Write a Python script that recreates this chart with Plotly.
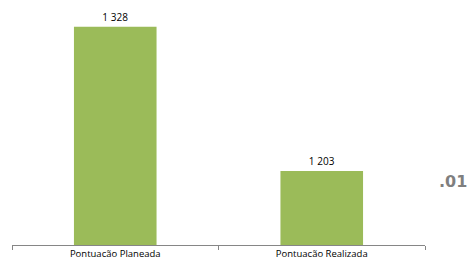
import plotly.graph_objects as go

categories = ["Pontuacão Planeada", "Pontuacão Realizada"]
values = [1328, 1203]
value_labels = ["1 328", "1 203"]

fig = go.Figure()
fig.add_trace(go.Bar(
    x=categories, y=values,
    marker=dict(color="#9BBB59", line=dict(width=0)),
    text=value_labels, textposition="outside",
    textfont=dict(family="Open Sans", size=10, color="#000000"),
    cliponaxis=False,
    hoverinfo="skip",
))

fig.update_layout(
    width=469, height=263,
    margin=dict(l=12, r=44, t=10, b=18, autoexpand=False),
    paper_bgcolor="white", plot_bgcolor="white",
    bargap=0.6,
    showlegend=False,
    xaxis=dict(
        showline=True, linecolor="#868686", linewidth=1,
        ticks="outside", tickson="boundaries", ticklen=4, tickcolor="#868686",
        tickfont=dict(family="Open Sans", size=9.5, color="#000000"),
        showgrid=False, automargin=False,
    ),
    yaxis=dict(
        range=[1139, 1342.5], visible=False, showgrid=False,
    ),
    annotations=[dict(
        text="<b>.01</b>", xref="paper", yref="paper",
        x=(453 - 12) / 413, y=(245 - 181) / 235,
        xanchor="center", yanchor="middle",
        showarrow=False,
        font=dict(family="Verdana, DejaVu Sans", size=16, color="#7F7F7F"),
    )],
)

fig.write_html(
    "out.html",
    config={"displayModeBar": False, "staticPlot": True},
    post_script="document.body.style.margin='0';document.body.style.overflow='hidden';",
)
